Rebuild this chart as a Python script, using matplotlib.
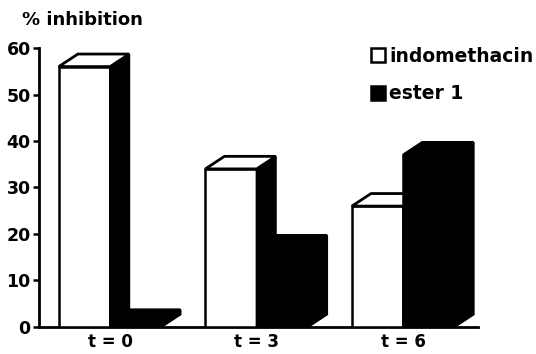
"""Percent inhibition of indomethacin vs. ester 1 at three time points, drawn as 3D-style bars."""

import matplotlib

matplotlib.use("Agg")
import matplotlib.pyplot as plt
from matplotlib.patches import Patch, Polygon


TIME_LABELS = ["t = 0", "t = 3", "t = 6"]
INDOMETHACIN = [56, 34, 26]
ESTER_1 = [1, 17, 37]
SERIES_NAMES = ["indomethacin", "ester 1"]

BAR_WIDTH = 0.35
DEPTH_X = 0.13
DEPTH_Y = 2.7


def draw_box(ax, x0, value, face, edge="black", top_face=None):
    x1 = x0 + BAR_WIDTH
    top_face = face if top_face is None else top_face
    ax.bar(x0, value, width=BAR_WIDTH, align="edge", facecolor=face,
           edgecolor=edge, linewidth=1.8, zorder=3)
    side = [(x1, 0), (x1 + DEPTH_X, DEPTH_Y), (x1 + DEPTH_X, value + DEPTH_Y), (x1, value)]
    ax.add_patch(Polygon(side, closed=True, facecolor="black", edgecolor="black",
                         linewidth=1.5, zorder=3))
    top = [(x0, value), (x0 + DEPTH_X, value + DEPTH_Y),
           (x1 + DEPTH_X, value + DEPTH_Y), (x1, value)]
    ax.add_patch(Polygon(top, closed=True, facecolor=top_face, edgecolor="black",
                         linewidth=2.0, joinstyle="miter", zorder=3))


fig = plt.figure(figsize=(5.36, 3.54), dpi=100)
ax = fig.add_axes([0.0728, 0.0763, 0.8190, 0.7881])

for i, (white_val, black_val) in enumerate(zip(INDOMETHACIN, ESTER_1)):
    draw_box(ax, i - BAR_WIDTH, white_val, "white")
    draw_box(ax, i, black_val, "black")

ax.set_xlim(-0.485, 2.51)
ax.set_ylim(0, 60)
ax.set_yticks([0, 10, 20, 30, 40, 50, 60])
ax.set_xticks(range(len(TIME_LABELS)))
ax.set_xticklabels(TIME_LABELS, fontsize=12, fontweight="bold")
for lbl in ax.get_yticklabels():
    lbl.set_fontsize(12.5)
    lbl.set_fontweight("bold")
ax.tick_params(axis="y", direction="out", length=4, width=1.8, pad=2)
ax.tick_params(axis="x", length=0, pad=4)

for side in ["top", "right"]:
    ax.spines[side].set_visible(False)
for side in ["left", "bottom"]:
    ax.spines[side].set_linewidth(2.0)

fig.text(0.041, 0.943, "% inhibition", fontsize=13, fontweight="bold",
         ha="left", va="center")

handles = [
    Patch(facecolor="white", edgecolor="black", linewidth=1.8),
    Patch(facecolor="black", edgecolor="black", linewidth=1.8),
]
ax.legend(handles, SERIES_NAMES, loc="upper left", bbox_to_anchor=(0.693, 0.868),
          bbox_transform=fig.transFigure, frameon=False, borderpad=0, borderaxespad=0,
          handlelength=0.72, handleheight=0.72, handletextpad=0.22, labelspacing=1.0,
          prop={"size": 13.5, "weight": "bold"})

fig.savefig("out.png", dpi=100)
